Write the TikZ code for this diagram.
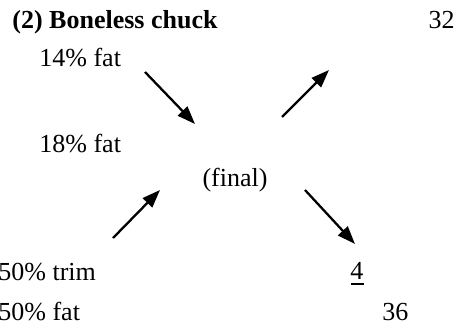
\documentclass[tikz,border=0pt]{standalone}
\usepackage{fontspec}
\setmainfont{Liberation Serif}
\usetikzlibrary{arrows.meta}
\tikzset{
  chtxt/.style={anchor=base west, inner sep=0pt, font=\fontsize{13}{15}\selectfont},
  chhead/.style={chtxt, font=\fontsize{13}{15}\selectfont\bfseries},
  charr/.style={-{Triangle[length=9pt,width=6.5pt]}, line width=1.15pt},
}
\newcommand{\chUline}[1]{\vtop{\hbox{\kern-0.5pt#1\kern0.5pt}\kern2pt\hrule height 1pt}}

\begin{document}
\begin{tikzpicture}[x=0.5pt, y=-0.5pt]
  \useasboundingbox (0,0) rectangle (464,326);
  % texts
  \node[chhead] (title) at (12,29) {(2) Boneless chuck};
  \node[chtxt, anchor=base east] (top) at (455,29) {32};
  \node[chtxt] (lean) at (39,67) {14\% fat};
  \node[chtxt] (mid) at (39,152) {18\% fat};
  \node[chtxt, anchor=base] (final) at (235,186) {(final)};
  \node[chtxt] (trim) at (-2,280) {50\% trim};
  \node[chtxt] (fat) at (-2,320) {50\% fat};
  \node[chtxt] (under) at (351,279) {\chUline{4}};
  \node[chtxt] (bottom) at (382,320) {36};
  % arrow ends
  \coordinate (inA) at (145,72);
  \coordinate (inAend) at (195,124);
  \coordinate (outA) at (282,117);
  \coordinate (outAend) at (329,70);
  \coordinate (inB) at (113,238);
  \coordinate (inBend) at (160,190);
  \coordinate (outB) at (305,190);
  \coordinate (outBend) at (355,244);
  \draw[charr] (inA) -- (inAend);
  \draw[charr] (outA) -- (outAend);
  \draw[charr] (inB) -- (inBend);
  \draw[charr] (outB) -- (outBend);
\end{tikzpicture}
\end{document}
